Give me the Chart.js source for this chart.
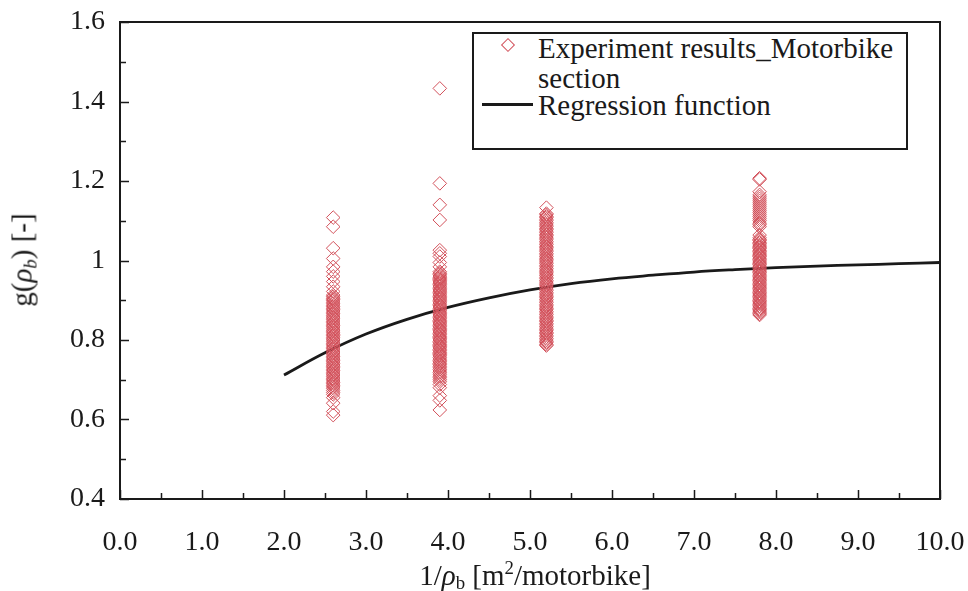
<!DOCTYPE html>
<html lang="en">
<head>
    <meta charset="UTF-8">
    <title>g(rho_b) vs 1/rho_b</title>
    <script src="https://cdn.jsdelivr.net/npm/chart.js"></script>
    <style>
        body {
            margin: 0;
            background: #fff;
            font-family: "Liberation Serif", "Times New Roman", serif;
            color: #1a1a1a;
        }
        #wrap {
            position: relative;
            width: 968px;
            height: 591px;
        }
        .txt {
            position: absolute;
            white-space: nowrap;
            line-height: 1;
        }
        sub, sup {
            font-size: 0.65em;
            line-height: 0;
        }
        sub { vertical-align: -0.25em; }
        sup { vertical-align: 0.55em; }
        #legend {
            position: absolute;
            left: 472px;
            top: 32px;
            width: 436px;
            height: 118px;
            box-sizing: border-box;
            border: 2px solid #1a1a1a;
            background: #fff;
        }
        #legDiamond {
            position: absolute;
            left: 503px;
            top: 40px;
            width: 8px;
            height: 8px;
            border: 1px solid rgb(210, 80, 90);
            transform: rotate(45deg);
        }
        #legLine {
            position: absolute;
            left: 482px;
            top: 103px;
            width: 51px;
            height: 3px;
            background: #1a1a1a;
        }
    </style>
</head>
<body>
<div id="wrap">
    <canvas id="chart" width="968" height="591"></canvas>

    <div id="legend"></div>
    <div id="legDiamond"></div>
    <div id="legLine"></div>
    <div class="txt" style="left:538px; top:34px; font-size:29px;">Experiment results_Motorbike</div>
    <div class="txt" style="left:538px; top:64px; font-size:29px;">section</div>
    <div class="txt" style="left:538px; top:91px; font-size:29px;">Regression function</div>

    <div class="txt" style="left:22px; top:260px; font-size:29px; transform: translate(-50%, -50%) rotate(-90deg);">g(<i>ρ<sub>b</sub></i>) [-]</div>
    <div class="txt" style="left:535px; top:575px; font-size:29px; transform: translate(-50%, -50%);">1/<i>ρ</i><sub>b</sub> [m<sup>2</sup>/motorbike]</div>
</div>

<script>
    // axis setup
    const xMin = 0, xMax = 10, xStep = 1;
    const yMin = 0.4, yMax = 1.6, yStep = 0.2;

    const sectionX = [2.6, 3.9, 5.2, 7.8];

    const g26 = [1.108, 1.085, 1.031, 1.005, 0.984, 0.972, 0.960, 0.947, 0.934, 0.922,
        0.913, 0.909, 0.905, 0.902, 0.899, 0.895, 0.891, 0.887, 0.884, 0.880,
        0.877, 0.873, 0.869, 0.866, 0.862, 0.858, 0.855, 0.851, 0.847, 0.844,
        0.840, 0.836, 0.833, 0.829, 0.825, 0.822, 0.818, 0.814, 0.811, 0.807,
        0.803, 0.800, 0.796, 0.792, 0.789, 0.785, 0.781, 0.778, 0.774, 0.770,
        0.767, 0.763, 0.759, 0.756, 0.752, 0.748, 0.745, 0.741, 0.737, 0.734,
        0.730, 0.726, 0.723, 0.719, 0.715, 0.712, 0.708, 0.704, 0.701, 0.697,
        0.693, 0.690, 0.686, 0.682, 0.678, 0.673, 0.668, 0.663, 0.655, 0.641,
        0.620, 0.611];

    const g39 = [1.433, 1.194, 1.140, 1.102, 1.026, 1.018, 1.010, 0.995, 0.984,
        0.972, 0.968, 0.965, 0.961, 0.958, 0.955, 0.952, 0.949, 0.946, 0.943,
        0.940, 0.936, 0.933, 0.929, 0.926, 0.923, 0.920, 0.916, 0.913, 0.909,
        0.906, 0.903, 0.900, 0.896, 0.893, 0.889, 0.886, 0.883, 0.880, 0.876,
        0.873, 0.869, 0.866, 0.863, 0.860, 0.856, 0.853, 0.849, 0.846, 0.843,
        0.840, 0.836, 0.833, 0.829, 0.826, 0.823, 0.820, 0.816, 0.813, 0.809,
        0.806, 0.803, 0.800, 0.796, 0.793, 0.789, 0.786, 0.783, 0.780, 0.776,
        0.773, 0.769, 0.766, 0.763, 0.760, 0.756, 0.752, 0.748, 0.745, 0.741,
        0.738, 0.734, 0.730, 0.726, 0.722, 0.718, 0.714, 0.709, 0.705, 0.700,
        0.695, 0.688, 0.680, 0.660, 0.648, 0.624];

    const g52 = [1.133, 1.118, 1.115, 1.111, 1.108, 1.104, 1.100, 1.096, 1.092,
        1.089, 1.085, 1.081, 1.078, 1.074, 1.070, 1.066, 1.063, 1.059, 1.056,
        1.052, 1.048, 1.044, 1.040, 1.036, 1.033, 1.029, 1.026, 1.022, 1.018,
        1.014, 1.010, 1.006, 1.003, 0.999, 0.996, 0.992, 0.988, 0.984, 0.980,
        0.976, 0.973, 0.969, 0.966, 0.962, 0.958, 0.954, 0.950, 0.946, 0.943,
        0.939, 0.936, 0.932, 0.928, 0.924, 0.920, 0.916, 0.913, 0.909, 0.906,
        0.902, 0.898, 0.894, 0.890, 0.886, 0.883, 0.879, 0.876, 0.872, 0.868,
        0.864, 0.860, 0.856, 0.853, 0.849, 0.846, 0.842, 0.838, 0.834, 0.830,
        0.826, 0.823, 0.819, 0.816, 0.812, 0.808, 0.804, 0.800, 0.796, 0.793,
        0.789, 0.786];

    const g78 = [1.207, 1.204, 1.173, 1.165, 1.160, 1.155, 1.150, 1.145, 1.140,
        1.135, 1.130, 1.125, 1.120, 1.115, 1.110, 1.105, 1.100, 1.094, 1.090,
        1.085, 1.064, 1.057, 1.053, 1.050, 1.046, 1.043, 1.039, 1.036, 1.033,
        1.030, 1.026, 1.023, 1.019, 1.016, 1.013, 1.010, 1.006, 1.003, 0.999,
        0.996, 0.993, 0.990, 0.986, 0.983, 0.979, 0.976, 0.973, 0.970, 0.966,
        0.963, 0.959, 0.956, 0.953, 0.950, 0.946, 0.943, 0.939, 0.936, 0.933,
        0.930, 0.926, 0.923, 0.919, 0.916, 0.913, 0.910, 0.906, 0.903, 0.899,
        0.896, 0.893, 0.890, 0.886, 0.883, 0.879, 0.876, 0.873, 0.870, 0.866,
        0.863];

    // regression curve
    const regX = [2.0, 2.5, 3.0, 3.5, 4.0, 4.5, 5.0, 5.5, 6.0, 6.5, 7.0, 7.5, 8.0, 8.5, 9.0, 9.5, 10.0];
    const regY = [0.712, 0.768, 0.815, 0.852, 0.882, 0.906, 0.926, 0.942, 0.954, 0.963, 0.971, 0.977, 0.982, 0.986, 0.989, 0.992, 0.995];

    const groups = [g26, g39, g52, g78];
    const expPoints = [];
    groups.forEach((vals, i) => {
        vals.forEach(v => expPoints.push({ x: sectionX[i], y: v }));
    });
    const regPoints = regX.map((x, i) => ({ x, y: regY[i] }));

    const axisColor = '#1a1a1a';

    // frame around the plot area plus inward tick marks
    const framePlugin = {
        id: 'frame',
        afterDraw(chart) {
            const { ctx, chartArea: a, scales } = chart;
            ctx.save();
            ctx.strokeStyle = axisColor;
            ctx.lineWidth = 2;
            ctx.strokeRect(a.left, a.top, a.right - a.left, a.bottom - a.top);

            ctx.lineWidth = 1.5;
            ctx.beginPath();
            for (let i = 0; i <= (xMax - xMin) * 2; i++) {
                const v = xMin + i * 0.5;
                const px = Math.round(scales.x.getPixelForValue(v)) + 0.5;
                const len = i % 2 === 0 ? 9 : 6;
                ctx.moveTo(px, a.bottom);
                ctx.lineTo(px, a.bottom - len);
            }
            for (let i = 0; i <= Math.round((yMax - yMin) * 10); i++) {
                const v = yMin + i * 0.1;
                const py = Math.round(scales.y.getPixelForValue(v)) + 0.5;
                const len = i % 2 === 0 ? 9 : 6;
                ctx.moveTo(a.left, py);
                ctx.lineTo(a.left + len, py);
            }
            ctx.stroke();
            ctx.restore();
        }
    };

    const tickFont = { family: '"Liberation Serif", "Times New Roman", serif', size: 28 };

    // keep the plot area where the reference has it
    function noOverhang(scale) {
        scale.paddingLeft = 0;
        scale.paddingRight = 0;
        scale.paddingTop = 0;
        scale.paddingBottom = 0;
    }

    new Chart(document.getElementById('chart'), {
        type: 'scatter',
        data: {
            datasets: [
                {
                    label: 'Regression function',
                    type: 'line',
                    data: regPoints,
                    borderColor: axisColor,
                    borderWidth: 2.8,
                    pointRadius: 0,
                    tension: 0.4,
                    fill: false,
                    order: 2
                },
                {
                    label: 'Experiment results_Motorbike section',
                    data: expPoints,
                    pointStyle: 'rectRot',
                    pointRadius: 6.8,
                    borderWidth: 1,
                    borderColor: 'rgb(210, 80, 90)',
                    backgroundColor: 'rgba(0,0,0,0)',
                    order: 1
                }
            ]
        },
        options: {
            responsive: false,
            animation: false,
            events: [],
            layout: { padding: { left: 0, right: 28, top: 22, bottom: 0 } },
            plugins: {
                legend: { display: false },
                tooltip: { enabled: false }
            },
            scales: {
                x: {
                    type: 'linear',
                    min: xMin,
                    max: xMax,
                    grid: { display: false, drawTicks: false },
                    border: { display: false },
                    ticks: {
                        stepSize: xStep,
                        padding: 27,
                        color: axisColor,
                        font: tickFont,
                        maxRotation: 0,
                        callback: v => v.toFixed(1)
                    },
                    afterFit(scale) {
                        scale.height = 92;
                        noOverhang(scale);
                    }
                },
                y: {
                    min: yMin,
                    max: yMax,
                    grid: { display: false, drawTicks: false },
                    border: { display: false },
                    ticks: {
                        stepSize: yStep,
                        padding: 15,
                        color: axisColor,
                        font: tickFont,
                        callback: v => String(parseFloat(v.toFixed(1)))
                    },
                    afterFit(scale) {
                        scale.width = 120;
                        noOverhang(scale);
                    }
                }
            }
        },
        plugins: [framePlugin]
    });
</script>
</body>
</html>
